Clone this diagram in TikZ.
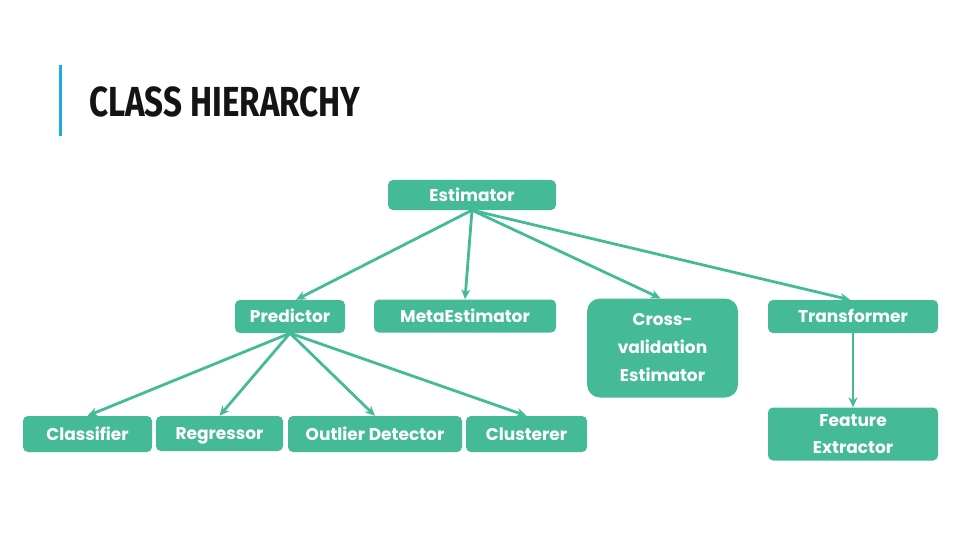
\documentclass[tikz,border=0pt]{standalone}
\usepackage{fontspec}
\setmainfont{Poppins}
\newfontfamily\titlefont{Fira Sans}
\usetikzlibrary{arrows.meta}
\definecolor{boxgreen}{HTML}{44BB96}
\definecolor{barblue}{HTML}{1CADE4}
\definecolor{titleink}{HTML}{141414}
\begin{document}
\begin{tikzpicture}[x=1pt,y=-1pt,
  cls/.style={fill=boxgreen, text=white, rounded corners=5pt, inner sep=0pt,
    font=\fontsize{17}{28}\selectfont\bfseries, align=center, minimum height=33pt},
  oneline/.style={text height=12pt, text depth=0pt},
  link/.style={draw=boxgreen, line width=2.8pt, -{Stealth[length=10pt,width=9pt]}}]
\useasboundingbox (0,0) rectangle (960,540);
% title bar
\fill[barblue] (59,65) rectangle (61.5,136);
\node[anchor=base west, inner sep=0pt, text=titleink] (title) at (89,117)
  {\titlefont\bfseries\fontsize{42}{42}\selectfont\scalebox{0.79}[1]{CLASS HIERARCHY}};
% class boxes
\node[cls, oneline, minimum width=168pt, minimum height=30pt] (est) at (472,195) {Estimator};
\node[cls, oneline, minimum width=110pt] (pred) at (290,316.5) {Predictor};
\node[cls, oneline, minimum width=182pt] (meta) at (465,316) {MetaEstimator};
\node[cls, minimum width=151pt, minimum height=99pt, rounded corners=13pt] (cv) at (662.5,348) {Cross-\\validation\\Estimator};
\node[cls, oneline, minimum width=170pt] (trans) at (853,316.5) {Transformer};
\node[cls, minimum width=170pt, minimum height=53pt, font=\fontsize{17}{27}\selectfont\bfseries] (feat) at (853,434) {Feature\\Extractor};
\node[cls, oneline, minimum width=129pt, minimum height=36pt] (clf) at (87.5,434) {Classifier};
\node[cls, oneline, minimum width=127pt, minimum height=35pt] (reg) at (219.5,433.5) {Regressor};
\node[cls, oneline, minimum width=174pt, minimum height=36pt] (out) at (375,434) {Outlier Detector};
\node[cls, oneline, minimum width=121pt, minimum height=36pt] (clu) at (526.5,434) {Clusterer};
% inheritance links
\draw[link] (est.south) -- ([xshift=6pt]pred.north);
\draw[link] (est.south) -- (meta.north);
\draw[link] (est.south) -- ([xshift=-2pt]cv.north);
\draw[link] (est.south) -- ([xshift=-3pt]trans.north);
\draw[link] (pred.south) -- (clf.north);
\draw[link] (pred.south) -- (reg.north);
\draw[link] (pred.south) -- (out.north);
\draw[link] (pred.south) -- (clu.north);
\draw[link] (trans.south) -- (feat.north);
\end{tikzpicture}
\end{document}
